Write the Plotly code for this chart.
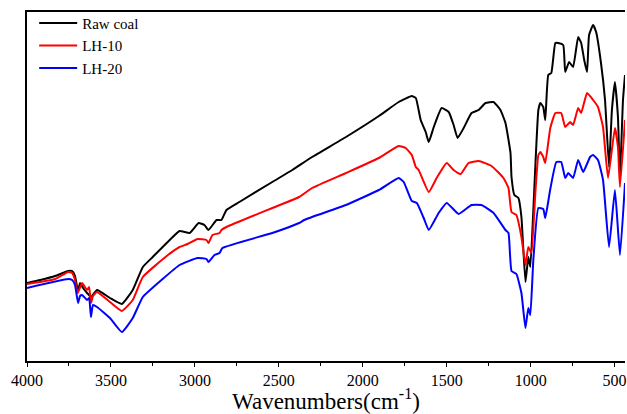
import plotly.graph_objects as go

# Wavenumbers (cm^-1) and transmittance (arbitrary units, offset curves)
raw_wn = [4000, 3921, 3832, 3755, 3731, 3714, 3696, 3684, 3666, 3642, 3619, 3583, 3506, 3435, 3370,
          3310, 3251, 3168, 3091, 3031, 2978, 2943, 2919, 2871, 2842, 2812, 2735, 2539, 2420, 2302,
          2100, 1904, 1786, 1708, 1684, 1655, 1625, 1607, 1577, 1530, 1488, 1459, 1435, 1399, 1352,
          1310, 1269, 1221, 1180, 1150, 1120, 1114, 1097, 1073, 1055, 1031, 1014, 1002, 984, 954,
          942, 925, 913, 895, 877, 853, 836, 806, 794, 771, 747, 717, 699, 681, 664, 652, 628, 610,
          581, 557, 533, 516, 498, 480, 468, 450, 438]
raw_t = [78, 81, 85, 90, 90, 85, 70, 78, 73, 68, 64, 71, 63, 57, 71,
         94, 104, 118, 130, 128, 138, 136, 131, 141, 141, 151, 159, 179, 191, 204,
         224, 245, 259, 265, 263, 241, 229, 219, 234, 253, 249, 236, 223, 233, 248,
         251, 258, 259, 251, 238, 208, 184, 166, 163, 144, 79, 104, 94, 151, 251,
         258, 254, 241, 286, 288, 318, 318, 316, 289, 299, 294, 324, 318, 301, 289, 326, 336, 329,
         298, 261, 194, 251, 279, 244, 184, 261, 286]

lh10_wn = [4000, 3832, 3755, 3731, 3714, 3698, 3672, 3642, 3630, 3619, 3607, 3583, 3506, 3435, 3370,
           3310, 3168, 3091, 3043, 2984, 2931, 2919, 2895, 2853, 2842, 2812, 2539, 2379, 2302, 2100,
           1904, 1786, 1744, 1708, 1684, 1667, 1607, 1560, 1500, 1459, 1417, 1370, 1310, 1233, 1162,
           1132, 1114, 1085, 1055, 1031, 1014, 996, 972, 954, 942, 925, 913, 883, 853, 818,
           794, 765, 747, 717, 699, 664, 628, 599, 569, 539, 498, 480, 468, 438]
lh10_t = [77, 82, 89, 88, 81, 68, 78, 71, 74, 58, 65, 69, 59, 50, 61,
          84, 105, 114, 117, 122, 121, 118, 126, 128, 131, 134, 153, 164, 173, 188,
          203, 215, 213, 206, 194, 191, 169, 183, 198, 191, 187, 198, 200, 195, 183,
          173, 149, 146, 124, 96, 114, 108, 168, 206, 209, 204, 198, 233, 248, 248,
          234, 239, 236, 253, 248, 268, 261, 254, 234, 183, 233, 214, 174, 241]

lh20_wn = [4000, 3755, 3731, 3714, 3696, 3684, 3672, 3642, 3630, 3619, 3607, 3583, 3506, 3435, 3370,
           3310, 3192, 3091, 2984, 2931, 2919, 2883, 2853, 2836, 2539, 2379, 2349, 2100, 1904, 1786,
           1756, 1708, 1678, 1637, 1607, 1548, 1500, 1429, 1352, 1293, 1221, 1150, 1132, 1114, 1085,
           1055, 1031, 1014, 1002, 984, 954, 925, 913, 883, 847, 818, 794, 776, 747, 717,
           687, 646, 628, 599, 569, 533, 498, 468, 438]
lh20_t = [73, 82, 81, 76, 58, 65, 66, 61, 63, 44, 56, 54, 43, 29, 43,
          64, 82, 96, 103, 102, 99, 106, 108, 113, 128, 138, 141, 156, 171, 183,
          179, 160, 158, 143, 131, 148, 158, 147, 156, 156, 148, 131, 128, 90, 87,
          68, 33, 53, 46, 101, 153, 152, 143, 172, 199, 199, 183, 188, 183, 201,
          189, 204, 206, 201, 181, 114, 171, 106, 178]

series = [
    ("Raw coal", raw_wn, raw_t, "#000000"),
    ("LH-10", lh10_wn, lh10_t, "#ff0000"),
    ("LH-20", lh20_wn, lh20_t, "#0000ff"),
]

x_ticks = [4000, 3500, 3000, 2500, 2000, 1500, 1000, 500]

FONT = "Liberation Serif, Times New Roman, serif"

fig = go.Figure()
for name, wn, t, col in series:
    fig.add_trace(go.Scatter(x=wn, y=t, mode="lines", name=name,
                             line=dict(color=col, width=2, shape="spline", smoothing=0.4)))

fig.update_layout(
    width=627, height=414,
    margin=dict(l=27, r=0, t=12, b=53),
    paper_bgcolor="white", plot_bgcolor="white",
    font=dict(family=FONT, size=16, color="black"),
    showlegend=True,
    legend=dict(x=0.012, y=1.015, xanchor="left", yanchor="top",
                bgcolor="rgba(0,0,0,0)", borderwidth=0,
                font=dict(family=FONT, size=15, color="black"),
                itemwidth=38, tracegroupgap=0),
)
fig.update_xaxes(
    range=[4000, 438], tickvals=x_ticks, ticktext=[str(v) for v in x_ticks],
    ticks="outside", ticklen=4, tickwidth=1.2, tickcolor="black",
    ticklabeloverflow="allow",
    minor=dict(dtick=250, ticks="outside", ticklen=3, tickwidth=1.2, tickcolor="black"),
    showline=True, linecolor="black", linewidth=1.5, mirror=True,
    showgrid=False, zeroline=False,
    tickfont=dict(family=FONT, size=16, color="black"),
    title=dict(text="Wavenumbers(cm<sup>-1</sup>)", font=dict(family=FONT, size=23, color="black"),
               standoff=5),
)
fig.update_yaxes(
    range=[0, 349], showticklabels=False, ticks="",
    showline=True, linecolor="black", linewidth=1.5,
    showgrid=False, zeroline=False,
)

fig.write_html("out.html")
